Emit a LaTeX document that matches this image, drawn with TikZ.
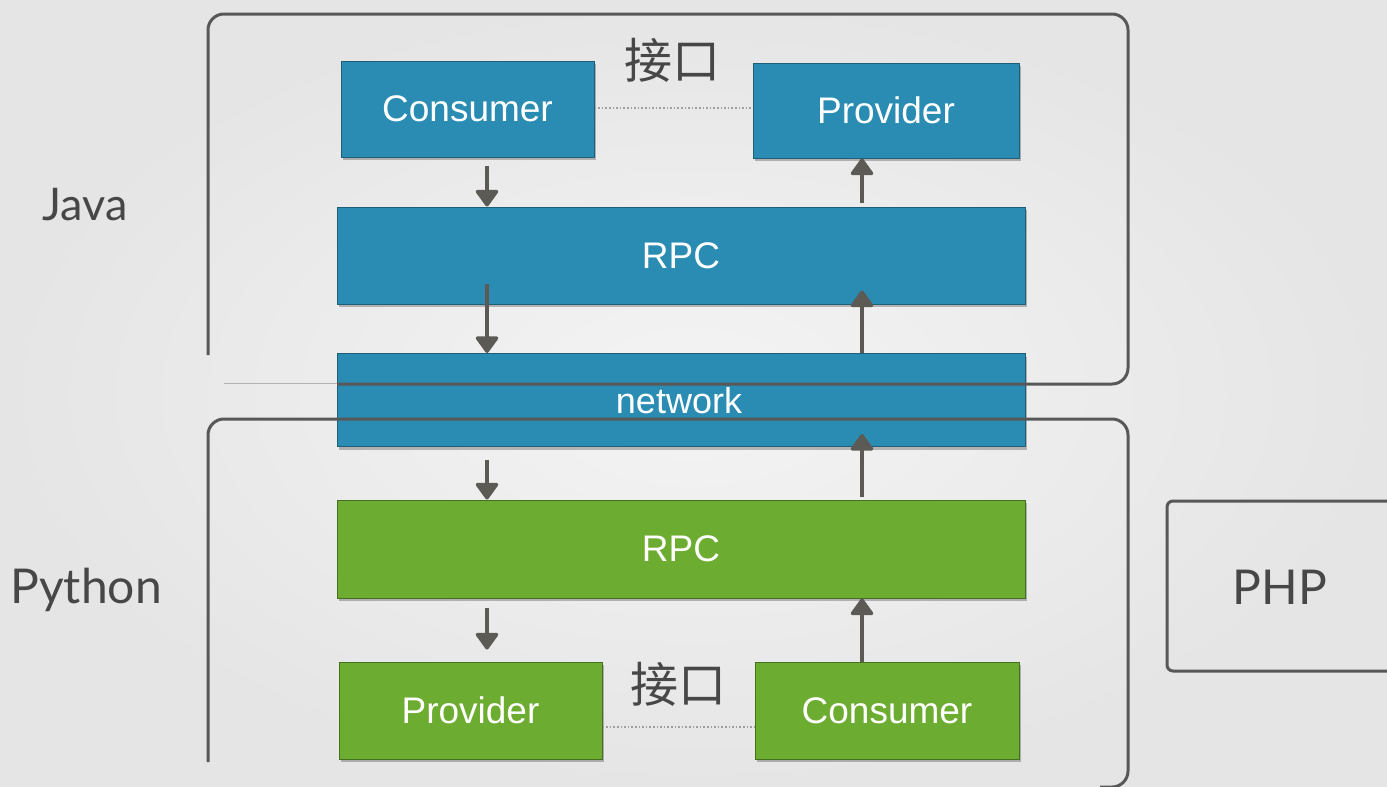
\documentclass[tikz,border=0pt]{standalone}
\usepackage{fontspec}
\setmainfont{Liberation Sans}
\newfontfamily\gill{Lato}
\newfontfamily\cjk{Noto Sans CJK SC}
\usetikzlibrary{arrows.meta,shadows,calc}
\definecolor{bgin}{HTML}{F4F4F4}
\definecolor{bgout}{HTML}{E5E5E5}
\definecolor{boxblue}{HTML}{2A8CB2}
\definecolor{blueedge}{HTML}{1E5E76}
\definecolor{boxgreen}{HTML}{6CAC30}
\definecolor{greenedge}{HTML}{466F22}
\definecolor{framecol}{HTML}{585858}
\definecolor{arrcol}{HTML}{5C5A55}
\definecolor{labcol}{HTML}{474747}
\tikzset{
  layerbox/.style={rectangle, inner sep=0pt, draw=#1edge, line width=1pt, fill=box#1,
    text=white, font=\fontsize{37}{40}\selectfont,
    drop shadow={shadow xshift=2pt, shadow yshift=-3pt, opacity=0.25, fill=black}},
  arr/.style={draw=arrcol, line width=3.5pt, -{Triangle[width=25pt,length=18pt,round]}},
  frame/.style={draw=framecol, line width=3pt, rounded corners=16pt},
  langlabel/.style={text=labcol, font=\gill\fontsize{48}{50}\selectfont},
  iface/.style={text=labcol, font=\cjk\fontsize{48}{50}\selectfont},
  dotline/.style={draw=gray!75, line width=1.6pt, dotted}
}
\begin{document}
\begin{tikzpicture}[x=1pt,y=-1pt]
\useasboundingbox (0,0) rectangle (1387,787);
\shade[inner color=bgin, outer color=bgout] (0,0) rectangle (1387,787);

% boxes
\node[layerbox=blue, minimum width=253pt, minimum height=96pt] (c1) at (467.5,109) {Consumer};
\node[layerbox=blue, minimum width=266pt, minimum height=95pt] (p1) at (886,110.5) {Provider};
\node[layerbox=blue, minimum width=688pt, minimum height=97pt] (r1) at (681,255.5) {RPC};
\node[layerbox=blue, minimum width=688pt, minimum height=93pt] (net) at (681,400) {};
\node[layerbox=green, minimum width=688pt, minimum height=98pt] (r2) at (681,549) {RPC};
\node[layerbox=green, minimum width=263pt, minimum height=97pt] (p2) at (470.5,710.5) {Provider};
\node[layerbox=green, minimum width=264pt, minimum height=97pt] (c2) at (887,710.5) {Consumer};
\node[text=white, font=\fontsize{36}{40}\selectfont] (nettext) at (679,401) {network};

% frames
\draw[frame] (208,355) -- (208,14) -- (1128,14) -- (1128,384) -- (337,384);
\draw[draw=gray!60, line width=1pt] (337,383) -- (224,383);
\draw[frame] (208,762) -- (208,419) -- (1128,419) -- (1128,787) -- (1100,787);
\draw[frame, rounded corners=6pt] (1387,501) -- (1167,501) -- (1167,671) -- (1387,671);

% labels
\node[langlabel, font=\gill\fontsize{45}{50}\selectfont] (java) at (85,205) {Java};
\node[langlabel] (python) at (86,590) {Python};
\node[langlabel] (php) at (1280,587) {PHP};
\node[iface] (if1) at (672,60) {接口};
\node[iface] (if2) at (678,684) {接口};

% dotted interface lines
\draw[dotline] (c1.east |- 0,108) -- (p1.west |- 0,108);
\draw[dotline] (p2.east |- 0,727) -- (c2.west |- 0,727);

% arrows
\coordinate (L) at (487,0);
\coordinate (R) at (862,0);
\draw[arr] ($(c1.south -| L)+(0,8)$) -- (r1.north -| L);
\draw[arr] ($(r1.south -| L)+(0,-21)$) -- (net.north -| L);
\draw[arr] ($(net.south -| L)+(0,13)$) -- (r2.north -| L);
\draw[arr] ($(r2.south -| L)+(0,9)$) -- ($(p2.north -| L)+(0,-12)$);
\draw[arr] ($(r1.north -| R)+(0,-4)$) -- (p1.south -| R);
\draw[arr] (net.north -| R) -- ($(r1.south -| R)+(0,-14)$);
\draw[arr] ($(r2.north -| R)+(0,-3)$) -- ($(net.south -| R)+(0,-13)$);
\draw[arr] (c2.north -| R) -- (r2.south -| R);
\end{tikzpicture}
\end{document}
